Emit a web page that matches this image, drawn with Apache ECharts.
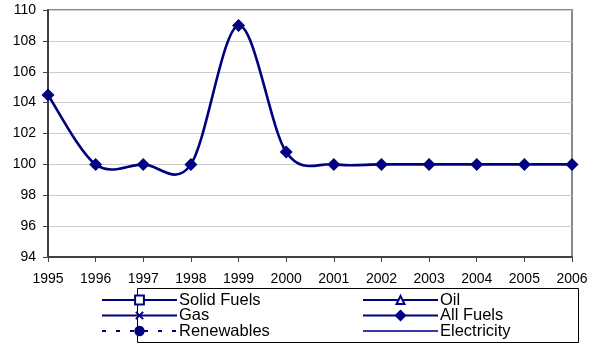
<!DOCTYPE html>
<html>
<head>
<meta charset="utf-8">
<script src="https://cdn.jsdelivr.net/npm/echarts@6/dist/echarts.min.js"></script>
<style>html,body{margin:0;padding:0;background:#fff}#c{width:597px;height:345px}</style>
</head>
<body>
<div id="c"></div>
<script>
const years = ['1995','1996','1997','1998','1999','2000','2001','2002','2003','2004','2005','2006'];
const allFuels = [104.5, 100, 100, 100, 109, 100.8, 100, 100, 100, 100, 100, 100];
const solidFuels = [];
const oil = [];
const gas = [];
const renewables = [];
const electricity = [];
const yTicks = {min: 94, max: 110, interval: 2};

const navy = '#000080';
const font = 'Liberation Sans, Arial, sans-serif';
const chart = echarts.init(document.getElementById('c'));

// Excel-like (Catmull-Rom) smoothing drawn through the axis scales
function smoothSegment(params, api) {
  const i = params.dataIndexInside;
  const n = params.dataInsideLength;
  if (i >= n - 1) return null;
  const pt = k => { k = Math.max(0, Math.min(n - 1, k)); return api.coord([api.value(0, k), api.value(1, k)]); };
  const p0 = pt(i - 1), p1 = pt(i), p2 = pt(i + 1), p3 = pt(i + 2);
  return {
    type: 'bezierCurve',
    shape: {
      x1: p1[0], y1: p1[1], x2: p2[0], y2: p2[1],
      cpx1: p1[0] + (p2[0] - p0[0]) / 6, cpy1: p1[1] + (p2[1] - p0[1]) / 6,
      cpx2: p2[0] - (p3[0] - p1[0]) / 6, cpy2: p2[1] - (p3[1] - p1[1]) / 6
    },
    style: {stroke: navy, lineWidth: 2.6, fill: null}
  };
}

const rowCenters = [300, 315.5, 331];
function legendItem(name, col, row, itemHeight, extra) {
  const lh = 18;
  return {
    orient: 'vertical', left: col === 0 ? 101 : 362, top: rowCenters[row] - lh / 2,
    padding: 0, itemWidth: 75, itemHeight: itemHeight, itemGap: 0,
    textStyle: {color: '#000', fontFamily: font, fontSize: 16.5, lineHeight: lh, padding: [0, 0, 0, -3]},
    data: [Object.assign({name: name}, extra || {})]
  };
}

const base = {type: 'line', lineStyle: {color: navy, width: 2}, itemStyle: {color: navy}};
chart.setOption({
  animation: false,
  grid: {left: 48, right: 25, top: 10, bottom: 88, show: true, borderColor: '#8a8a8a', borderWidth: 2},
  xAxis: {
    type: 'category', data: years, boundaryGap: false,
    axisLine: {lineStyle: {color: '#404040', width: 2}},
    axisTick: {length: 5, lineStyle: {color: '#404040'}},
    axisLabel: {color: '#000', fontFamily: font, fontSize: 14, margin: 15},
    splitLine: {show: false}
  },
  yAxis: {
    type: 'value', min: yTicks.min, max: yTicks.max, interval: yTicks.interval,
    axisLine: {show: true, lineStyle: {color: '#404040', width: 2}},
    axisTick: {show: true, length: 5, lineStyle: {color: '#404040'}},
    axisLabel: {color: '#000', fontFamily: font, fontSize: 14, margin: 12},
    splitLine: {lineStyle: {color: '#cccccc', width: 1}}
  },
  legend: [
    legendItem('Solid Fuels', 0, 0, 11),
    legendItem('Gas', 0, 1, 9),
    legendItem('Renewables', 0, 2, 13),
    legendItem('Oil', 1, 0, 10),
    legendItem('All Fuels', 1, 1, 15, {lineStyle: {opacity: 1, color: navy, width: 2}}),
    legendItem('Electricity', 1, 2, 10, {itemStyle: {opacity: 0}})
  ],
  graphic: [{type: 'rect', shape: {x: 137.5, y: 288.5, width: 441, height: 54}, style: {fill: 'none', stroke: '#000', lineWidth: 1}, silent: true}],
  series: [
    Object.assign({}, base, {name: 'Solid Fuels', data: solidFuels, symbol: 'rect', symbolSize: 7, itemStyle: {color: '#fff', borderColor: navy, borderWidth: 2}}),
    Object.assign({}, base, {name: 'Oil', data: oil, symbol: 'triangle', symbolSize: 7, itemStyle: {color: '#fff', borderColor: navy, borderWidth: 2}}),
    Object.assign({}, base, {name: 'Gas', data: gas, symbol: 'path://M0,0L10,10M10,0L0,10', symbolSize: 7, itemStyle: {color: 'none', borderColor: navy, borderWidth: 2}}),
    {type: 'custom', name: 'All Fuels curve', data: years.map((y, i) => [y, allFuels[i]]), renderItem: smoothSegment, clip: false, z: 3, silent: true},
    Object.assign({}, base, {name: 'All Fuels', data: allFuels, symbol: 'diamond', symbolSize: 13, lineStyle: {color: navy, width: 2, opacity: 0}, z: 5}),
    Object.assign({}, base, {name: 'Renewables', data: renewables, symbol: 'circle', symbolSize: 9, lineStyle: {color: navy, width: 3, type: [4, 10]}}),
    Object.assign({}, base, {name: 'Electricity', data: electricity, symbol: 'none', lineStyle: {color: '#3838a8', width: 2}})
  ]
});
</script>
</body>
</html>
